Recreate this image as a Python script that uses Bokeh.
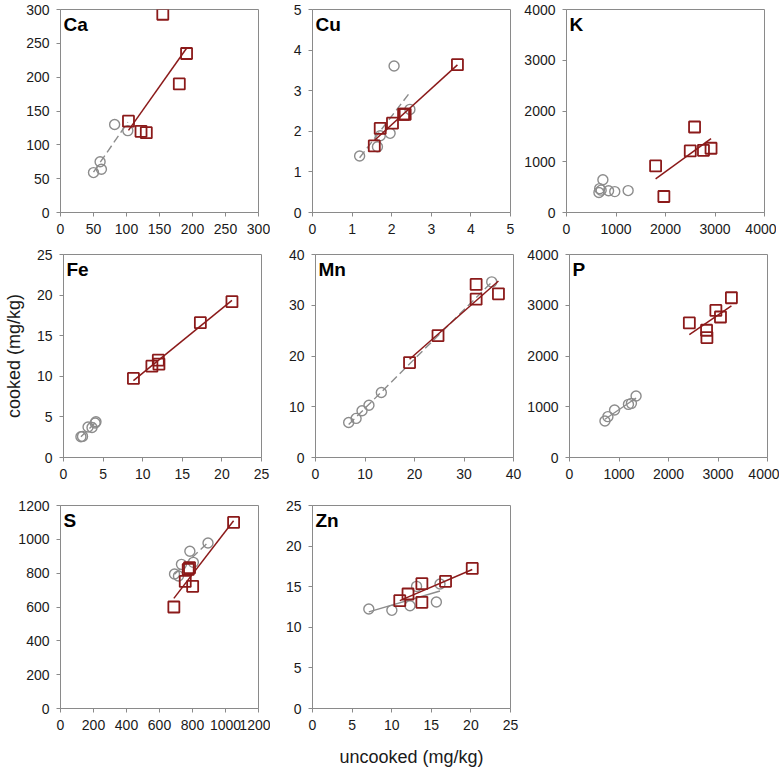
import numpy as np
from bokeh.plotting import figure
from bokeh.layouts import column, row
from bokeh.models import Range1d, FixedTicker, Label
from bokeh.embed import file_html
from bokeh.resources import INLINE

# ---------------- data (uncooked x, cooked y; mg/kg) ----------------
ca_gray_x = [50, 60, 62, 82, 102]
ca_gray_y = [59, 75, 64, 130, 121]
ca_red_x = [103, 122, 130, 155, 180, 191]
ca_red_y = [135, 120, 118, 293, 190, 235]

cu_gray_x = [1.19, 1.64, 1.71, 1.96, 2.06, 2.46]
cu_gray_y = [1.39, 1.62, 1.89, 1.95, 3.61, 2.54]
cu_red_x = [1.56, 1.71, 2.02, 2.30, 2.34, 3.66]
cu_red_y = [1.64, 2.07, 2.20, 2.42, 2.42, 3.64]

k_gray_x = [655, 670, 700, 735, 850, 975, 1245]
k_gray_y = [395, 470, 440, 645, 430, 412, 432]
k_red_x = [1800, 1967, 2500, 2587, 2767, 2920]
k_red_y = [918, 315, 1213, 1685, 1226, 1266]

fe_gray_x = [2.2, 2.4, 3.1, 3.6, 4.0, 4.1]
fe_gray_y = [2.55, 2.6, 3.75, 3.7, 4.25, 4.4]
fe_red_x = [8.83, 11.16, 11.97, 12.05, 17.28, 21.27]
fe_red_y = [9.74, 11.25, 11.99, 11.5, 16.61, 19.19]

mn_gray_x = [6.7, 8.2, 9.4, 10.8, 13.3, 35.6]
mn_gray_y = [6.9, 7.7, 9.2, 10.3, 12.8, 34.6]
mn_red_x = [19.0, 24.75, 32.45, 32.45, 36.96]
mn_red_y = [18.7, 24.0, 31.2, 34.1, 32.26]

p_gray_x = [716, 776, 910, 1191, 1251, 1345]
p_gray_y = [720, 805, 936, 1047, 1067, 1211]
p_red_x = [2421, 2769, 2776, 2957, 3050, 3271]
p_red_y = [2651, 2507, 2363, 2899, 2768, 3148]

s_gray_x = [691, 715, 733, 784, 805, 894]
s_gray_y = [795, 783, 852, 930, 864, 978]
s_red_x = [687, 756, 774, 782, 801, 1049]
s_red_y = [600, 751, 822, 832, 722, 1100]

zn_gray_x = [7.11, 10.02, 12.31, 13.14, 15.64, 16.1]
zn_gray_y = [12.25, 12.09, 12.66, 15.04, 13.11, 15.33]
zn_red_x = [11.02, 12.06, 13.81, 13.81, 16.8, 20.17]
zn_red_y = [13.28, 14.1, 15.37, 13.07, 15.66, 17.25]

elements = ["Ca", "Cu", "K", "Fe", "Mn", "P", "S", "Zn"]
axis_max = [300, 5, 4000, 25, 40, 4000, 1200, 25]
axis_step = [50, 1, 1000, 5, 10, 1000, 200, 5]
gray_line = ["dash", "dash", None, "dash", "dash", "solid", "dash", "solid"]

series = [
    (ca_gray_x, ca_gray_y, ca_red_x, ca_red_y),
    (cu_gray_x, cu_gray_y, cu_red_x, cu_red_y),
    (k_gray_x, k_gray_y, k_red_x, k_red_y),
    (fe_gray_x, fe_gray_y, fe_red_x, fe_red_y),
    (mn_gray_x, mn_gray_y, mn_red_x, mn_red_y),
    (p_gray_x, p_gray_y, p_red_x, p_red_y),
    (s_gray_x, s_gray_y, s_red_x, s_red_y),
    (zn_gray_x, zn_gray_y, zn_red_x, zn_red_y),
]

RED = "#8b1a1a"
GRAY = "#8c8c8c"
AXIS = "#8a8a8a"
FONT = "Liberation Sans"

col_left = [60, 42, 46]
col_right = [12, 10, 12]
row_top = [9, 9, 9]
row_bottom = [33, 39, 55]


def fit_line(x, y):
    x = np.asarray(x, float)
    y = np.asarray(y, float)
    k, b = np.polyfit(x, y, 1)
    xs = np.array([x.min(), x.max()])
    return xs, k * xs + b


def make_panel(i):
    r, c = divmod(i, 3)
    top = axis_max[i]
    step = axis_step[i]
    gx, gy, rx, ry = series[i]
    p = figure(frame_width=198, frame_height=203,
               min_border_left=col_left[c], min_border_right=col_right[c],
               min_border_top=row_top[r], min_border_bottom=row_bottom[r],
               x_range=Range1d(0, top), y_range=Range1d(0, top),
               toolbar_location=None, output_backend="svg",
               background_fill_color="white", border_fill_color="white")
    p.outline_line_color = AXIS
    p.outline_line_width = 1
    p.grid.visible = False
    ticks = list(np.arange(0, top + step / 2, step))
    for ax in (p.xaxis[0], p.yaxis[0]):
        ax.ticker = FixedTicker(ticks=ticks)
        ax.axis_line_color = AXIS
        ax.major_tick_line_color = AXIS
        ax.major_tick_out = 4
        ax.major_tick_in = 0
        ax.minor_tick_line_color = None
        ax.major_label_text_font = FONT
        ax.major_label_text_font_size = "14px"
        ax.major_label_text_color = "#1a1a1a"
        ax.major_label_standoff = 7
        ax.axis_label_text_font = FONT
        ax.axis_label_text_font_style = "normal"
        ax.axis_label_text_color = "#1a1a1a"

    # gray (circles) series
    if gray_line[i] is not None:
        xs, ys = fit_line(gx, gy)
        p.line(xs, ys, line_color=GRAY, line_width=1.4,
               line_dash="8 4" if gray_line[i] == "dash" else "solid")
    p.scatter(gx, gy, marker="circle", size=10, fill_color=None,
              line_color=GRAY, line_width=1.4)

    # red (squares) series
    xs, ys = fit_line(rx, ry)
    p.line(xs, ys, line_color=RED, line_width=1.5)
    p.scatter(rx, ry, marker="square", size=11, fill_color=None,
              line_color=RED, line_width=1.8)

    p.add_layout(Label(x=0, y=top, x_offset=3, y_offset=-4,
                       text=elements[i], text_baseline="top",
                       text_font=FONT, text_font_style="bold",
                       text_font_size="19px", text_color="black"))
    return p


panels = [make_panel(i) for i in range(8)]

fe = panels[3]
fe.yaxis[0].axis_label = "cooked (mg/kg)"
fe.yaxis[0].axis_label_text_font_size = "18px"
fe.yaxis[0].axis_label_standoff = 10

zn = panels[7]
zn.xaxis[0].axis_label = "uncooked (mg/kg)"
zn.xaxis[0].axis_label_text_font_size = "18px"
zn.xaxis[0].axis_label_standoff = 14

layout = column(row(panels[0], panels[1], panels[2]),
                row(panels[3], panels[4], panels[5]),
                row(panels[6], panels[7]))

open("out.html", "w").write(file_html(layout, INLINE))
